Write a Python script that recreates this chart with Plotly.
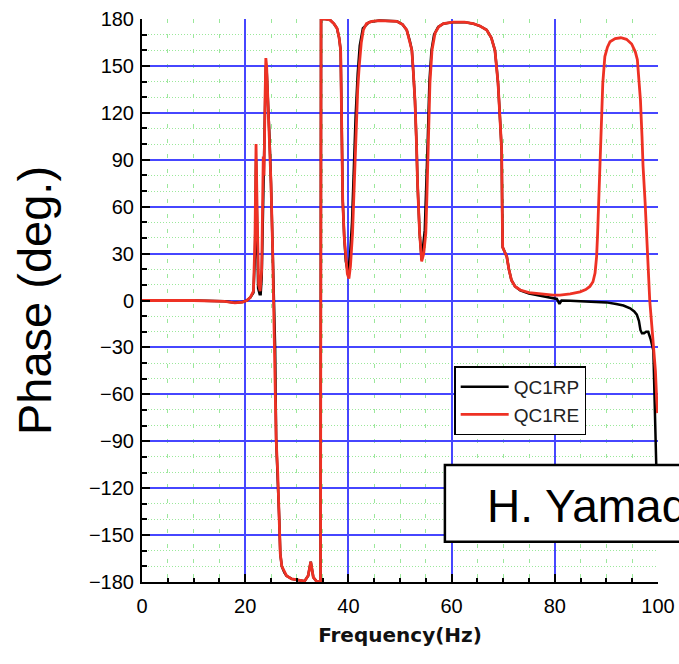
import plotly.graph_objects as go

# ---- data ----
freq_rp = [0, 10, 16, 18, 19.5, 20.3, 21.0, 21.6, 21.9, 22.1, 22.3, 22.5, 22.8, 23.0, 23.2, 23.5, 23.8,
           24.0, 24.15, 24.4, 24.7, 25.0, 25.3, 25.5, 25.8, 26.0, 26.3, 26.6, 26.8, 27.1, 27.6, 28.0,
           29.0, 30.6, 31.5, 32.2, 32.7, 33.2, 33.8, 34.4, 34.6, 34.7, 35.5, 36.4, 37.2, 37.8, 38.2,
           38.5, 38.6, 38.8, 38.9, 39.2, 39.5, 39.9, 40.3, 40.7, 41.1, 41.4, 41.8, 42.2, 42.8, 44.0,
           46.0, 49.4, 50.5, 51.3, 51.9, 52.3, 52.6, 52.9, 53.2, 53.4, 53.8, 54.0, 54.2, 54.8, 55.1,
           55.4, 55.7, 56.1, 56.6, 57.4, 58.4, 60.3, 62.5, 64.2, 65.5, 66.8, 67.7, 68.4, 68.7, 69.0,
           69.4, 69.7, 69.8, 69.9, 70.3, 70.7, 71.1, 71.6, 72.3, 73.3, 75.0, 76.5, 78.0, 79.5, 80.4,
           80.9, 81.3, 83.0, 85.0, 88.1, 90.0, 91.9, 93.3, 94.6, 95.4, 95.9, 96.3, 96.6, 96.9, 97.3,
           97.7, 98.1, 98.6, 99.1, 99.3, 99.5, 99.65, 99.85]
phase_rp = [0, 0, -0.5, -1.5, -1, 0, 2, 5, 30, 90, 50, 8, 4, 4, 15, 60, 110,
            150, 148, 130, 105, 75, 35, 0, -30, -89, -110, -140, -162, -170, -174, -176,
            -178, -179, -179.5, -176, -167, -177, -179.5, -180, -180, 180, 180, 179.5, 177, 174, 168,
            160, 130, 90, 64, 40, 25, 18, 28, 50, 90, 118, 145, 163, 174, 178,
            179, 178.5, 176.5, 173, 166, 160, 145, 128, 100, 75, 43, 32, 26, 45, 70,
            105, 140, 160, 170, 175, 177, 178, 178, 177, 175.5, 173, 168, 160, 150, 139,
            115, 96, 60, 34, 31, 28, 20, 13, 9, 6.5, 4.5, 3.5, 2.5, 1.5, 1,
            -2.2, 0, -0.2, -0.4, -0.7, -1.2, -2.2, -3.2, -5, -7, -9, -13, -19, -21, -21,
            -20, -20, -25, -32, -60, -90, -105, -130]

freq_re = [0, 10, 16, 18, 19.5, 20.3, 21.0, 21.6, 21.9, 22.1, 22.3, 22.6, 22.9, 23.2, 23.5, 23.65,
           23.85, 24.0, 24.15, 24.4, 24.7, 25.0, 25.3, 25.5, 25.8, 26.0, 26.3, 26.6, 26.8, 27.1, 27.6,
           28.0, 29.0, 30.6, 31.5, 32.2, 32.7, 33.2, 33.8, 34.4, 34.6, 34.7, 35.5, 36.4, 37.2, 37.8,
           38.2, 38.5, 38.6, 38.8, 38.9, 39.2, 39.5, 39.8, 40.1, 40.4, 40.8, 41.2, 41.5, 41.8, 42.1,
           42.5, 42.9, 43.5, 44.5, 46.0, 49.4, 50.5, 51.3, 51.9, 52.3, 52.6, 52.9, 53.2, 53.4, 53.8,
           54.0, 54.2, 54.6, 55.0, 55.2, 55.4, 55.6, 55.8, 56.2, 56.8, 57.5, 58.4, 60.3, 62.5, 64.2,
           65.5, 66.8, 67.7, 68.4, 68.7, 69.0, 69.4, 69.7, 69.8, 69.9, 70.3, 70.7, 71.1, 71.6, 72.3,
           73.3, 75.0, 76.5, 78.0, 79.7, 81.0, 83.0, 84.9, 86.0, 86.8, 87.4, 87.8, 88.1, 88.3, 88.6,
           88.8, 89.0, 89.3, 89.7, 90.2, 90.7, 91.7, 92.8, 93.9, 94.9, 95.6, 96.0, 96.3, 96.6, 96.9,
           97.1, 97.5, 97.8, 98.1, 98.4, 98.8, 99.2, 99.5, 99.7, 99.9]
phase_re = [0, 0, -0.5, -1.5, -1, 0, 2, 6, 40, 100, 60, 10, 6, 20, 92, 80,
            130, 155, 150, 130, 105, 75, 35, 0, -30, -89, -110, -140, -162, -170, -174,
            -176, -178, -179, -179.5, -176, -167, -177, -179.5, -180, -180, 180, 180, 179.5, 177, 174,
            168, 160, 130, 90, 64, 40, 25, 17, 14, 22, 43, 80, 107, 135, 150,
            165, 173, 177, 178.5, 179, 178.5, 176.5, 173, 166, 160, 145, 128, 100, 75, 43,
            30, 25, 30, 43, 65, 86, 115, 139, 160, 171, 175, 177, 178, 178, 177,
            175.5, 173, 168, 160, 150, 139, 115, 96, 60, 34, 31, 28, 20, 13, 9,
            6.7, 5, 4.5, 4, 3.5, 3.5, 4.2, 5.5, 7, 9, 12, 17.5, 28, 43, 70,
            96, 118, 139, 156, 162, 165.5, 167.5, 168, 167, 164, 159, 154, 142, 128, 105,
            86, 63, 43, 22, 0, -16, -32, -45, -60, -72]

series_names = ["QC1RP", "QC1RE"]
series_colors = ["#000000", "#ee3124"]

x_title = "Frequency(Hz)"
y_title = "Phase (deg.)"
credit_text = "H. Yamada"

# ---- figure ----
fig = go.Figure()
fig.add_trace(go.Scatter(x=freq_rp, y=phase_rp, mode="lines", name=series_names[0],
                         line=dict(color=series_colors[0], width=2.5)))
fig.add_trace(go.Scatter(x=freq_re, y=phase_re, mode="lines", name=series_names[1],
                         line=dict(color=series_colors[1], width=2.8)))

major_grid = "#4646ff"
minor_grid = "#9be89b"

fig.update_layout(
    width=679, height=664,
    margin=dict(l=142, r=21, t=19, b=82, autoexpand=False),
    paper_bgcolor="white", plot_bgcolor="white",
    font=dict(family="Arial, Liberation Sans", color="black"),
    showlegend=True,
    legend=dict(x=0.605, y=0.383, xanchor="left", yanchor="top",
                bgcolor="white", bordercolor="black", borderwidth=1.5,
                font=dict(size=19, family="Arial, Liberation Sans", color="#222222"),
                itemwidth=48, tracegroupgap=0),
)

fig.update_xaxes(
    range=[0, 100], tick0=0, dtick=20,
    showline=True, linecolor="black", linewidth=2,
    ticks="inside", ticklen=8, tickwidth=2, tickcolor="black",
    showgrid=True, gridcolor=major_grid, gridwidth=1.5, zeroline=False,
    tickfont=dict(size=20, family="Arial, Liberation Sans", color="black"),
    ticklabelstandoff=5,
    minor=dict(dtick=5, ticks="inside", ticklen=4, tickwidth=1.5, tickcolor="black",
               showgrid=True, gridcolor=minor_grid, gridwidth=1, griddash="4px,11px"),
    title=dict(text=x_title, font=dict(size=20, family="DejaVu Sans", weight="bold", color="#111111"),
               standoff=12),
)
fig.update_yaxes(
    range=[-180, 180], tick0=0, dtick=30,
    showline=True, linecolor="black", linewidth=2,
    ticks="inside", ticklen=8, tickwidth=2, tickcolor="black",
    showgrid=True, gridcolor=major_grid, gridwidth=1.5,
    zeroline=True, zerolinecolor=major_grid, zerolinewidth=1.5,
    tickfont=dict(size=20, family="Arial, Liberation Sans", color="black"),
    ticklabelstandoff=2,
    minor=dict(dtick=10, ticks="inside", ticklen=5, tickwidth=1.5, tickcolor="black",
               showgrid=True, gridcolor=minor_grid, gridwidth=1, griddash="1px,2px"),
    title=dict(text=y_title, font=dict(size=47, family="Arial, Liberation Sans", color="black"),
               standoff=22),
)

fig.add_shape(type="rect", xref="paper", yref="paper",
              x0=0.587, x1=1.3, y0=0.0716, y1=0.208,
              line=dict(color="black", width=2.5), fillcolor="white", layer="above")
fig.add_annotation(text=credit_text, xref="paper", yref="paper",
                   x=0.6647, y=0.135, xanchor="left", yanchor="middle", showarrow=False,
                   font=dict(size=46, family="Arial, Liberation Sans", color="black"))

fig.write_html("out.html")
